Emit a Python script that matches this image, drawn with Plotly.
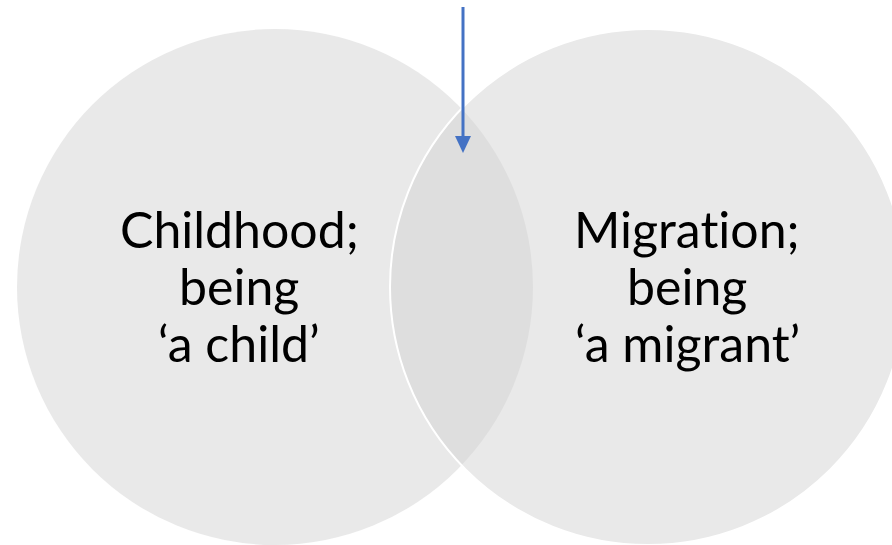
import plotly.graph_objects as go

W, H = 892, 545
# circle data: centers and radius (pixel space)
circle_names = ["Childhood", "Migration"]
circle_cx = [275, 648]
circle_cy = [287, 287]
circle_r = [258, 258]
left_lines = ["Childhood;", "being", "\u2018a child\u2019"]
right_lines = ["Migrat\u200cion;", "being", "\u2018a migrant\u2019"]
label_cx = [239, 687]
line_y = [229, 286, 343]
arrow_x = 463
arrow_y = [7, 153]

fig = go.Figure()
fill = "rgba(212,212,212,0.5)"
for i in range(2):
    fig.add_shape(type="circle", xref="x", yref="y",
                  x0=circle_cx[i] - circle_r[i], x1=circle_cx[i] + circle_r[i],
                  y0=circle_cy[i] - circle_r[i], y1=circle_cy[i] + circle_r[i],
                  fillcolor=fill,
                  line=dict(color="white", width=2 if i == 1 else 0), layer="below")

for lines, cx in zip([left_lines, right_lines], label_cx):
    for t, y in zip(lines, line_y):
        fig.add_annotation(x=cx, y=y, xref="x", yref="y", text=t, showarrow=False,
                           font=dict(family="Lato, Carlito, Calibri, sans-serif", size=50, color="black"),
                           xanchor="center", yanchor="middle")

# arrow
head = 17
fig.add_shape(type="line", xref="x", yref="y", x0=arrow_x, x1=arrow_x,
              y0=arrow_y[0], y1=arrow_y[1] - head + 2, line=dict(color="#4472C4", width=3))
fig.add_shape(type="path", xref="x", yref="y",
              path=f"M {arrow_x-8},{arrow_y[1]-head} L {arrow_x+8},{arrow_y[1]-head} L {arrow_x},{arrow_y[1]} Z",
              fillcolor="#4472C4", line=dict(width=0))

fig.update_xaxes(range=[0, W], visible=False, fixedrange=True)
fig.update_yaxes(range=[H, 0], visible=False, fixedrange=True)
fig.update_layout(width=W, height=H, margin=dict(l=0, r=0, t=0, b=0),
                  plot_bgcolor="white", paper_bgcolor="white", showlegend=False)
fig.write_html("out.html", config={"displayModeBar": False})

with open("out.html", "r", encoding="utf-8") as f:
    html = f.read()
html = html.replace("<head>", "<head><style>html,body{margin:0;padding:0;overflow:hidden;}</style>", 1)
with open("out.html", "w", encoding="utf-8") as f:
    f.write(html)
